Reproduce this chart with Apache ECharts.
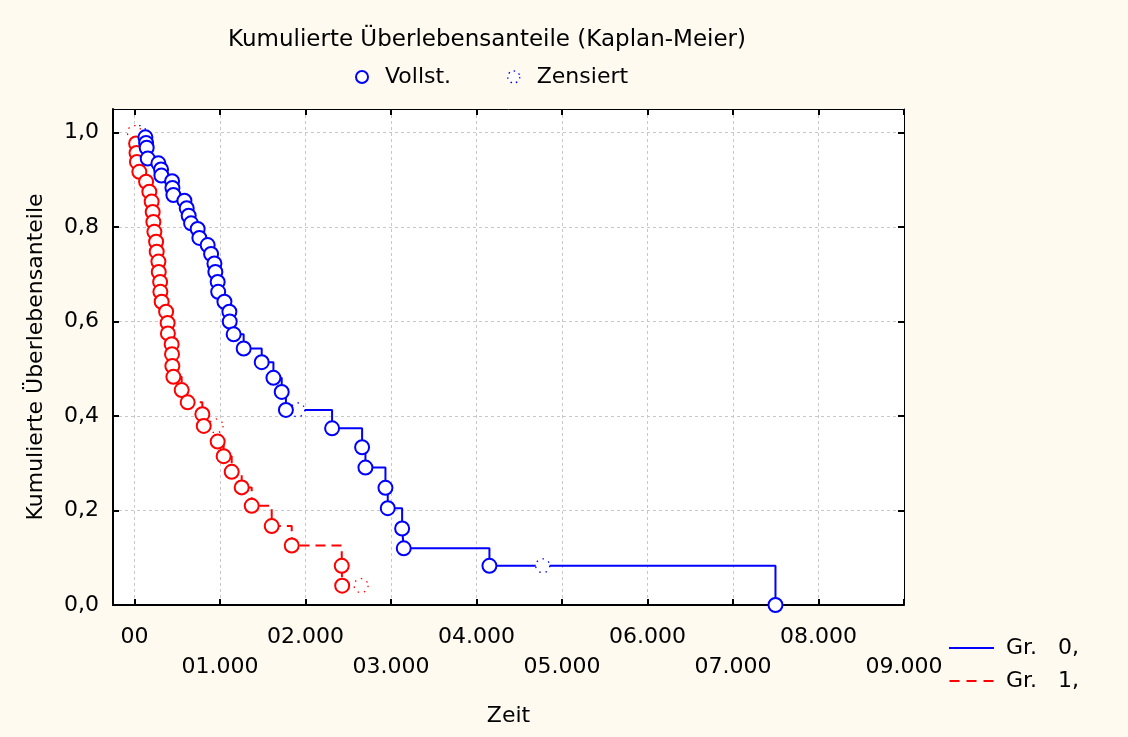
<!DOCTYPE html>
<html>
<head>
<meta charset="utf-8">
<script src="https://cdn.jsdelivr.net/npm/echarts@6/dist/echarts.min.js"></script>
<style>
html, body { margin: 0; padding: 0; background: #fefaf0; }
#kmChart { width: 1128px; height: 737px; }
</style>
</head>
<body>
<div id="kmChart"></div>
<script>
// Gruppe 0 (blau) - vollständige Beobachtungen
const gr0Zeit = [129, 137, 144, 156, 281, 312, 316, 441, 445, 456, 585, 612, 635, 663, 740, 760, 857, 897, 936, 947,
    974, 980, 1053, 1111, 1115, 1161, 1278, 1489, 1626, 1723, 1772, 2312, 2663, 2702, 2936, 2963, 3131, 3150, 4152, 7497];
const gr0Anteil = [0.990, 0.978, 0.968, 0.945, 0.935, 0.922, 0.909, 0.897, 0.883, 0.868, 0.856, 0.840, 0.824, 0.808, 0.796, 0.777, 0.762, 0.743, 0.723, 0.705,
    0.684, 0.663, 0.642, 0.621, 0.600, 0.573, 0.543, 0.514, 0.481, 0.451, 0.413, 0.374, 0.334, 0.291, 0.248, 0.205, 0.162, 0.120, 0.083, 0];
// Gruppe 0 - zensiert
const gr0ZensZeit = [58, 1910, 4775];
const gr0ZensAnteil = [1.0, 0.413, 0.083];

// Gruppe 1 (rot) - vollständige Beobachtungen
const gr1Zeit = [20, 25, 30, 58, 137, 175, 202, 214, 222, 234, 254, 261, 281, 285, 301, 304, 319, 371, 389, 392,
    436, 440, 444, 456, 553, 623, 795, 811, 974, 1044, 1138, 1255, 1372, 1606, 1840, 2425, 2430];
const gr1Anteil = [0.977, 0.957, 0.938, 0.917, 0.896, 0.875, 0.854, 0.832, 0.811, 0.790, 0.769, 0.748, 0.727, 0.705, 0.684, 0.663, 0.642, 0.621, 0.597, 0.575,
    0.552, 0.531, 0.506, 0.483, 0.455, 0.429, 0.404, 0.379, 0.346, 0.315, 0.282, 0.249, 0.210, 0.167, 0.126, 0.083, 0.041];
// Gruppe 1 - zensiert
const gr1ZensZeit = [0, 955, 2651];
const gr1ZensAnteil = [1.0, 0.379, 0.041];

// Achsen
const xTickWerte = [0, 1000, 2000, 3000, 4000, 5000, 6000, 7000, 8000, 9000];
const xTickLabels = ['00', '01.000', '02.000', '03.000', '04.000', '05.000', '06.000', '07.000', '08.000', '09.000'];
const yTickWerte = [0, 0.2, 0.4, 0.6, 0.8, 1.0];
const yTickLabels = ['0,0', '0,2', '0,4', '0,6', '0,8', '1,0'];

const schrift = 'DejaVu Sans';
const blau = '#0000ff';
const rot = '#ff0000';

function paare(xs, ys) {
    return xs.map((x, i) => [x, ys[i]]);
}
// Treppenlinie: Start bei (0,1), dann Ereignisse + Zensierungen nach Zeit
function stufenLinie(zeit, anteil, zensZeit, zensAnteil) {
    const pts = paare(zeit, anteil).concat(paare(zensZeit, zensAnteil));
    pts.sort((a, b) => a[0] - b[0]);
    return [[0, 1]].concat(pts);
}
function findIndex(arr, v) {
    for (let i = 0; i < arr.length; i++) {
        if (Math.abs(arr[i] - v) < 1e-6) return i;
    }
    return -1;
}

var kmChart = echarts.init(document.getElementById('kmChart'));

const gitterLinie = { show: true, lineStyle: { color: '#c8c8c8', type: [3, 3], width: 1 } };
const schwarz = { color: '#000', width: 2 };
const kreisStil = { color: '#fff', borderWidth: 2, opacity: 1 };
const zensStil = { color: '#fff', borderWidth: 1.3, borderType: [1.5, 5], opacity: 1 };

var option = {
    backgroundColor: '#fefaf0',
    animation: false,
    textStyle: { fontFamily: schrift, color: '#000' },
    title: {
        text: 'Kumulierte Überlebensanteile (Kaplan-Meier)',
        left: 487,
        top: 29,
        textAlign: 'center',
        padding: 0,
        textStyle: { fontSize: 23, fontWeight: 'normal', color: '#000', fontFamily: schrift }
    },
    legend: [
        {
            data: [
                { name: 'Vollst.', itemStyle: Object.assign({ borderColor: blau }, kreisStil) },
                { name: 'Zensiert', itemStyle: Object.assign({ borderColor: blau }, zensStil, { borderType: [1.5, 4] }) }
            ],
            left: 355,
            top: 66,
            itemWidth: 36,
            itemHeight: 12,
            itemGap: 56,
            padding: 0,
            textStyle: { fontSize: 22, color: '#000', fontFamily: schrift }
        },
        {
            data: [
                { name: 'Gr.   0,', icon: 'path://M0,0H45V2H0Z' },
                { name: 'Gr.   1,', icon: 'path://M0,0H10V2H0Z M17,0H27V2H17Z M34,0H44V2H34Z' }
            ],
            orient: 'vertical',
            left: 949,
            top: 637,
            itemWidth: 45,
            itemHeight: 2,
            itemGap: 11,
            padding: 0,
            textStyle: { fontSize: 22, color: '#000', fontFamily: schrift, padding: [0, 0, 0, 7] }
        }
    ],
    grid: {
        left: 113,
        right: 224,
        top: 109,
        bottom: 132,
        show: true,
        backgroundColor: '#fff',
        borderWidth: 0
    },
    xAxis: [
        {
            type: 'value',
            position: 'bottom',
            min: -250,
            max: 9000,
            name: 'Zeit',
            nameLocation: 'middle',
            nameGap: 100,
            nameTextStyle: { fontSize: 22, color: '#000', fontFamily: schrift },
            axisLine: { onZero: false, lineStyle: schwarz },
            axisTick: { inside: true, length: 6, customValues: xTickWerte, lineStyle: schwarz },
            axisLabel: {
                customValues: xTickWerte,
                margin: 17,
                fontSize: 22,
                lineHeight: 30,
                color: '#000',
                fontFamily: schrift,
                formatter: function (v) {
                    const i = findIndex(xTickWerte, v);
                    return i % 2 ? '\n' + xTickLabels[i] : xTickLabels[i];
                }
            },
            splitLine: gitterLinie
        },
        {
            type: 'value',
            position: 'top',
            min: -250,
            max: 9000,
            axisLine: { onZero: false, lineStyle: { color: '#000', width: 1 } },
            axisTick: { inside: true, length: 6, customValues: xTickWerte, lineStyle: { color: '#000', width: 2 } },
            axisLabel: { show: false },
            splitLine: { show: false }
        }
    ],
    yAxis: [
        {
            type: 'value',
            position: 'left',
            min: 0,
            max: 1.05,
            name: 'Kumulierte Überlebensanteile',
            nameLocation: 'middle',
            nameGap: 66,
            nameRotate: 90,
            nameTextStyle: { fontSize: 22, color: '#000', fontFamily: schrift },
            axisLine: { onZero: false, lineStyle: schwarz },
            axisTick: { inside: true, length: 6, customValues: yTickWerte, lineStyle: schwarz },
            axisLabel: {
                customValues: yTickWerte,
                margin: 14,
                fontSize: 22,
                color: '#000',
                fontFamily: schrift,
                formatter: function (v) {
                    return yTickLabels[findIndex(yTickWerte, v)];
                }
            },
            splitLine: gitterLinie
        },
        {
            type: 'value',
            position: 'right',
            min: 0,
            max: 1.05,
            axisLine: { show: true, onZero: false, lineStyle: { color: '#000', width: 1 } },
            axisTick: { show: true, inside: true, length: 6, customValues: yTickWerte, lineStyle: { color: '#000', width: 2 } },
            axisLabel: { show: false },
            splitLine: { show: false }
        }
    ],
    series: [
        {
            name: 'Gr.   0,',
            type: 'line',
            step: 'end',
            symbol: 'none',
            data: stufenLinie(gr0Zeit, gr0Anteil, gr0ZensZeit, gr0ZensAnteil),
            lineStyle: { color: blau, width: 2 },
            itemStyle: { color: blau },
            z: 2
        },
        {
            name: 'Gr.   1,',
            type: 'line',
            step: 'end',
            symbol: 'none',
            data: stufenLinie(gr1Zeit, gr1Anteil, gr1ZensZeit, gr1ZensAnteil),
            lineStyle: { color: rot, width: 2, type: [10, 6] },
            itemStyle: { color: rot },
            z: 2
        },
        {
            name: 'Zensiert',
            type: 'scatter',
            symbol: 'circle',
            symbolSize: 14,
            data: paare(gr0ZensZeit, gr0ZensAnteil),
            itemStyle: Object.assign({ borderColor: blau }, zensStil),
            z: 3
        },
        {
            name: 'Zensiert',
            type: 'scatter',
            symbol: 'circle',
            symbolSize: 14,
            data: paare(gr1ZensZeit, gr1ZensAnteil),
            itemStyle: Object.assign({ borderColor: rot }, zensStil),
            z: 3
        },
        {
            name: 'Vollst.',
            type: 'scatter',
            symbol: 'circle',
            symbolSize: 14,
            data: paare(gr0Zeit, gr0Anteil),
            itemStyle: Object.assign({ borderColor: blau }, kreisStil),
            z: 5
        },
        {
            name: 'Vollst.',
            type: 'scatter',
            symbol: 'circle',
            symbolSize: 14,
            data: paare(gr1Zeit, gr1Anteil),
            itemStyle: Object.assign({ borderColor: rot }, kreisStil),
            z: 4
        }
    ]
};

kmChart.setOption(option);
</script>
</body>
</html>
